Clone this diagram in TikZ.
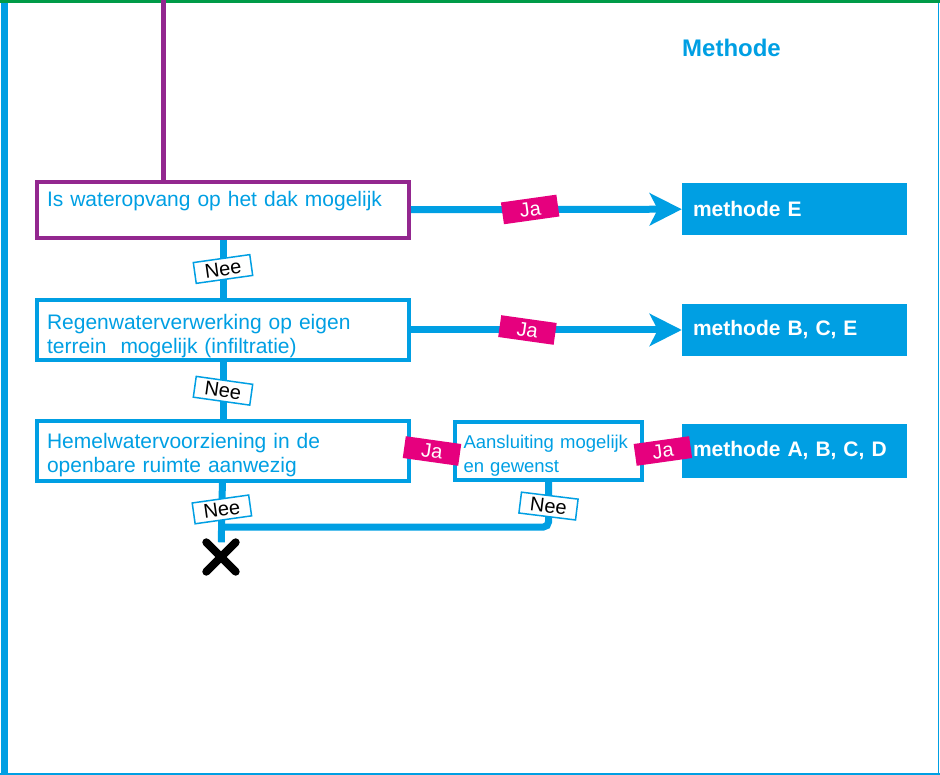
\documentclass[tikz,border=0pt]{standalone}
\usepackage{fontspec}
\setmainfont{Liberation Sans}
\usetikzlibrary{arrows.meta}
\definecolor{wblauw}{RGB}{0,159,227}
\definecolor{wpaars}{RGB}{147,39,143}
\definecolor{wroze}{RGB}{230,0,126}
\definecolor{wgroen}{RGB}{0,155,72}
\tikzstyle{vraag}=[draw=wblauw, line width=4pt, minimum width=372pt, text width=352pt, inner ysep=0pt, align=left, text=wblauw, font=\fontsize{21}{24}\selectfont]
\tikzstyle{methode}=[fill=wblauw, text=white, minimum width=225pt, minimum height=52pt, text width=203pt, align=left, font=\bfseries\fontsize{21}{24}\selectfont]
\tikzstyle{ja}=[fill=wroze, text=white, minimum width=56pt, minimum height=22pt, inner sep=0pt, font=\fontsize{20}{20}\selectfont]
\tikzstyle{nee}=[draw=wblauw, sharp corners, line width=1.5pt, fill=white, text=black, minimum width=57pt, minimum height=21pt, inner sep=0pt, font=\fontsize{20}{20}\selectfont]
\tikzstyle{lijn}=[draw=wblauw, line width=7pt]

\begin{document}
\begin{tikzpicture}[x=1pt,y=-1pt,>=latex]
\useasboundingbox (0,0) rectangle (940,775);
% kader
\draw[wblauw, line width=7pt] (4.5,0) -- (4.5,775);
\draw[wblauw, line width=2pt] (0,774) -- (940,774);
\draw[wblauw, line width=1.5pt] (938.5,0) -- (938.5,775);
\draw[wgroen, line width=3.5pt] (0,1.5) -- (940,1.5);

\node[text=wblauw, font=\bfseries\fontsize{24}{29}\selectfont] (titel) at (731.5,48) {Methode};

\node[vraag, draw=wpaars, minimum height=56pt, text height=16pt, text depth=23pt] (vraag1) at (223,210) {Is wateropvang op het dak mogelijk};
\node[vraag, minimum height=60pt, text height=16pt, text depth=17pt] (vraag2) at (223,330) {Regenwaterverwerking op eigen\\terrein\ \ mogelijk (infiltratie)};
\node[vraag, minimum height=59pt, text height=15pt, text depth=20pt] (vraag3) at (223,451) {Hemelwatervoorziening in de\\openbare ruimte aanwezig};
\node[vraag, minimum width=187pt, minimum height=57pt, text width=170pt, text height=14pt, text depth=19pt, font=\fontsize{18.5}{24}\selectfont] (vraag4) at (548.5,451) {Aansluiting mogelijk\\en gewenst};

\node[methode] (meth1) at (794.5,209) {methode E};
\node[methode] (meth2) at (794.5,330) {methode B, C, E};
\node[methode, minimum height=53pt] (meth3) at (794.5,451) {methode A, B, C, D};

\coordinate (boven) at (163,0);
\draw[wpaars, line width=5pt] (boven) -- (boven |- vraag1.north);

\draw[lijn, -{Stealth[length=32pt,width=32pt,inset=8pt]}] (vraag1) -- node[ja, pos=0.44, rotate=8] (ja1) {Ja} (meth1);
\draw[lijn, -{Stealth[length=32pt,width=32pt,inset=8pt]}] (vraag2) -- node[ja, pos=0.43, rotate=-8] (ja2) {Ja} (meth2);
\draw[lijn] (vraag1) -- node[nee, rotate=8] (nee1) {Nee} (vraag2);
\draw[lijn] (vraag2) -- node[nee, rotate=-8] (nee2) {Nee} (vraag3);
\draw[lijn] (vraag3) -- node[ja, rotate=-8] (ja3) {Ja} (vraag4);
\draw[lijn] (vraag4) -- node[ja, rotate=8] (ja4) {Ja} (meth3);

% nee-tak naar het kruis
\node[minimum size=29pt, inner sep=0pt] (kruis) at (221,557) {};
\coordinate (samen) at (222,527);
\draw[lijn] (vraag3) -- node[nee, pos=0.45, rotate=8] (nee3) {Nee} (kruis);
\draw[lijn, rounded corners=5pt] (vraag4) |- node[nee, pos=0.27, rotate=-7] (nee4) {Nee} (samen);
\draw[line width=8pt, line cap=round] (kruis.north west) -- (kruis.south east) (kruis.south west) -- (kruis.north east);
\end{tikzpicture}
\end{document}
